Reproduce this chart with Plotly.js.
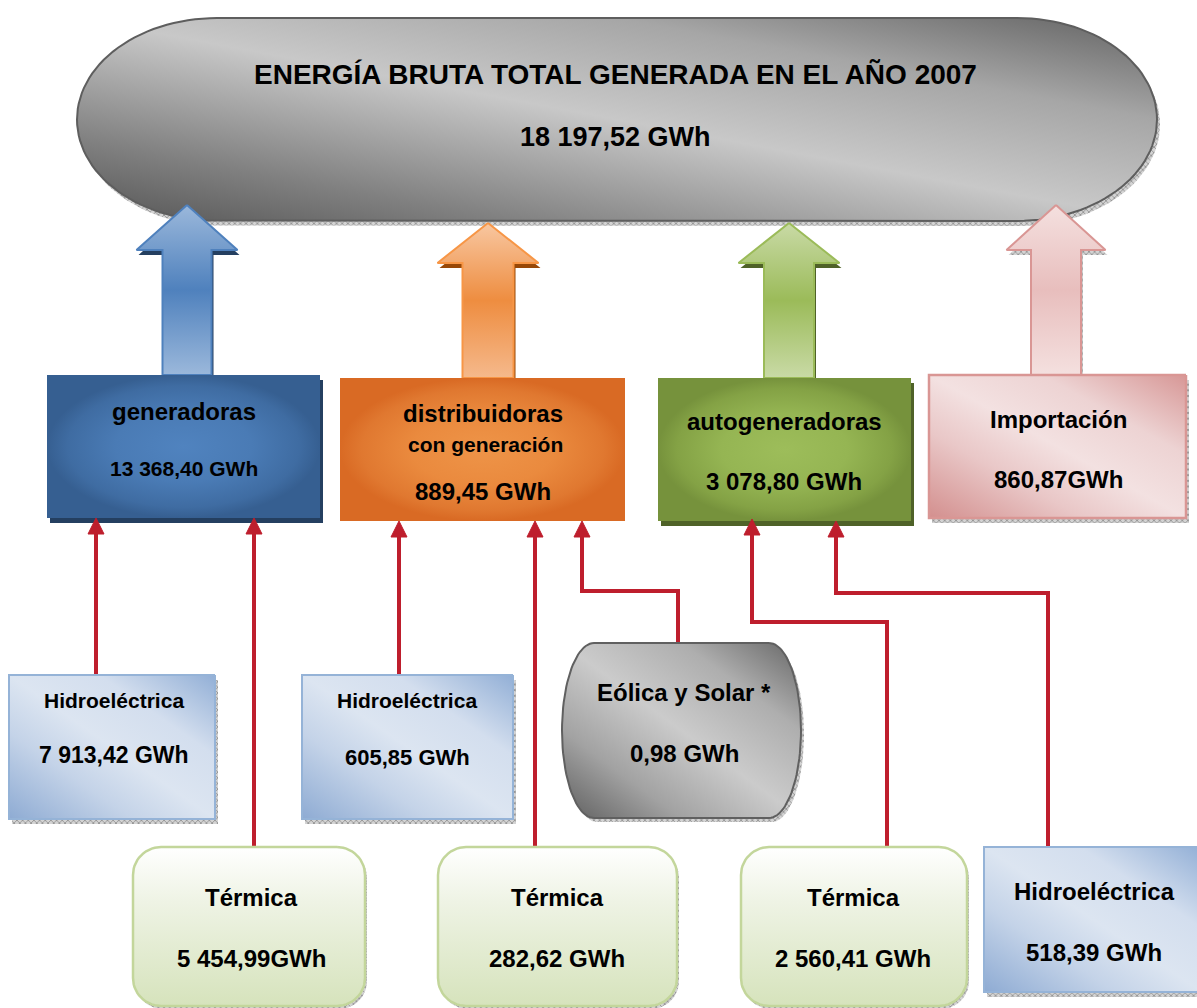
<!DOCTYPE html>
<html>
<head>
<meta charset="utf-8">
<script src="https://cdn.plot.ly/plotly-3.0.1.min.js"></script>
<style>html,body{margin:0;padding:0;background:#ffffff;}</style>
</head>
<body>
<div id="chart" style="width:1197px;height:1008px;"></div>
<script>
// ------------------------- DATA -------------------------
const totalTitle = 'ENERGÍA BRUTA TOTAL GENERADA EN EL AÑO 2007';
const totalValue = '18 197,52 GWh';

const groupNames     = ['generadoras', 'distribuidoras', 'autogeneradoras', 'Importación'];
const groupSubtitles = ['', 'con generación', '', ''];
const groupValues    = ['13 368,40 GWh', '889,45 GWh', '3 078,80 GWh', '860,87GWh'];

const sourceNames  = ['Hidroeléctrica', 'Térmica', 'Hidroeléctrica', 'Térmica', 'Eólica y Solar *', 'Térmica', 'Hidroeléctrica'];
const sourceValues = ['7 913,42 GWh', '5 454,99GWh', '605,85 GWh', '282,62 GWh', '0,98 GWh', '2 560,41 GWh', '518,39 GWh'];
const sourceGroup  = [0, 0, 1, 1, 1, 2, 2];   // which group each source feeds

// ------------------------- LAYOUT GEOMETRY / STYLE -------------------------
const W = 1197, H = 1008;
const FONT = '"Liberation Sans", Arial, Helvetica, sans-serif';
const RED = '#BE1E2D';

const pill = {x0: 77, y0: 18, x1: 1157, y1: 221, rx: 140, ry: 101.5};

// diagonal (top-right -> bottom-left) gradients
const DIAG_GRAY = [[0, '#555555'], [0.2, '#808080'], [0.5, '#C8C8C8'], [0.75, '#A6A6A6'], [1, '#626262']];
const DIAG_EOL  = [[0, '#5E5E5E'], [0.25, '#A2A2A2'], [0.5, '#CBCBCB'], [0.75, '#AEAEAE'], [1, '#666666']];
const DIAG_BLUE = [[0, '#8EABD3'], [0.3, '#C4D3E8'], [0.5, '#DCE5F1'], [0.72, '#D3DEEE'], [1, '#92AFD6']];
const DIAG_PINK = [[0, '#D38F8E'], [0.3, '#E9C7C7'], [0.5, '#F3E1E1'], [0.72, '#EDD3D3'], [1, '#D79796']];

const groupStyle = [
  {x0: 47,  y0: 375, x1: 320,  y1: 518, shadow: '#243F60', line: null, diag: false,
   stops: [[0, '#5083BF'], [0.5, '#4A7BB5'], [0.85, '#3F6CA2'], [1, '#365F91']],
   nameSize: 24, nameY: 411, subY: 0, valSize: 21, valY: 468, cx: 184},
  {x0: 340, y0: 378, x1: 625,  y1: 521, shadow: null, line: null, diag: false,
   stops: [[0, '#EE9448'], [0.5, '#EA8A3E'], [0.85, '#E07830'], [1, '#D96A24']],
   nameSize: 24, nameY: 413, subSize: 21, subY: 444, valSize: 24, valY: 491, cx: 483},
  {x0: 658, y0: 378, x1: 911,  y1: 521, shadow: '#4F6228', line: null, diag: false,
   stops: [[0, '#9DBD5A'], [0.5, '#95B553'], [0.85, '#84A245'], [1, '#76923C']],
   nameSize: 24, nameY: 421, subY: 0, valSize: 24, valY: 481, cx: 784},
  {x0: 929, y0: 375, x1: 1186, y1: 518, shadow: 'hatch', line: '#D99694', diag: true,
   stops: DIAG_PINK,
   nameSize: 24, nameY: 419, subY: 0, valSize: 24, valY: 479, cx: 1058}
];

const bigArrows = [
  {cx: 187,  tip: 205, head: 250, bot: 375, hw: 50.5, sw: 24.5, cs: ['#9BB8DB', '#4F81BD', '#9BB8DB'], line: '#4F81BD', shadow: '#243F60'},
  {cx: 488,  tip: 223, head: 263, bot: 378, hw: 50.5, sw: 25.5, cs: ['#F8C7A1', '#EE8D40', '#F5B98C'], line: '#F79646', shadow: '#984807'},
  {cx: 789,  tip: 223, head: 263, bot: 378, hw: 50.5, sw: 25,   cs: ['#C9DAA6', '#9BBB59', '#C9DAA6'], line: '#9BBB59', shadow: '#4F6228'},
  {cx: 1056, tip: 205, head: 250, bot: 375, hw: 49.5, sw: 25,   cs: ['#F4E0DF', '#E8BEBD', '#F4E0DF'], line: '#D99694', shadow: 'hatch'}
];

const sourceStyle = [
  {kind: 'hidro',   x0: 9,   y0: 675, x1: 215,  y1: 819,  cx: 114,  nameSize: 21, nameY: 700, valSize: 23, valY: 755},
  {kind: 'termica', x0: 133, y0: 847, x1: 365,  y1: 1006, cx: 251,  nameSize: 24, nameY: 897, valSize: 24, valY: 958},
  {kind: 'hidro',   x0: 302, y0: 675, x1: 513,  y1: 819,  cx: 407,  nameSize: 21, nameY: 700, valSize: 22, valY: 757},
  {kind: 'termica', x0: 438, y0: 847, x1: 677,  y1: 1006, cx: 557,  nameSize: 24, nameY: 897, valSize: 24, valY: 958},
  {kind: 'eolica',  x0: 562, y0: 643, x1: 801,  y1: 818,  cx: 684,  nameSize: 24, nameY: 692, valSize: 24, valY: 753},
  {kind: 'termica', x0: 741, y0: 847, x1: 967,  y1: 1006, cx: 853,  nameSize: 24, nameY: 897, valSize: 24, valY: 958},
  {kind: 'hidro',   x0: 984, y0: 847, x1: 1202, y1: 992,  cx: 1094, nameSize: 24, nameY: 891, valSize: 24, valY: 952}
];

// connector routes (from source box to group box)
const connectorRoutes = [
  [[96, 675], [96, 518]],
  [[254, 847], [254, 518]],
  [[399, 675], [399, 521]],
  [[535, 847], [535, 521]],
  [[678, 643], [678, 591], [582, 591], [582, 521]],
  [[887, 847], [887, 622], [752, 622], [752, 519]],
  [[1048, 847], [1048, 593], [836, 593], [836, 521]]
];

// ------------------------- HELPERS -------------------------
function roundRect(x0, y0, x1, y1, rx, ry, n) {
  n = n || 16;
  const xs = [], ys = [];
  const corners = [
    [x1 - rx, y0 + ry, -Math.PI / 2, 0],
    [x1 - rx, y1 - ry, 0, Math.PI / 2],
    [x0 + rx, y1 - ry, Math.PI / 2, Math.PI],
    [x0 + rx, y0 + ry, Math.PI, 1.5 * Math.PI]
  ];
  corners.forEach(c => {
    for (let i = 0; i <= n; i++) {
      const t = c[2] + (c[3] - c[2]) * i / n;
      xs.push(c[0] + rx * Math.cos(t));
      ys.push(c[1] + ry * Math.sin(t));
    }
  });
  xs.push(xs[0]); ys.push(ys[0]);
  return {x: xs, y: ys};
}
function shift(p, dx, dy) { return {x: p.x.map(v => v + dx), y: p.y.map(v => v + dy)}; }
function poly(p, o) {
  const t = {
    type: 'scatter', mode: 'lines', x: p.x, y: p.y, fill: 'toself',
    fillcolor: o.fill || 'rgba(0,0,0,0)',
    line: {color: o.line || 'rgba(0,0,0,0)', width: o.lw || 0},
    hoverinfo: 'skip', showlegend: false
  };
  if (o.grad) t.fillgradient = o.grad;
  if (o.pattern) t.fillpattern = o.pattern;
  if (o.meta) t.meta = o.meta;
  return t;
}
const hatch = {shape: 'x', size: 4, solidity: 0.35, fgcolor: '#8a8a8a', bgcolor: '#d4d4d4'};
function shadowTrace(p, color, dx, dy) {
  const s = shift(p, dx, dy);
  if (color === 'hatch') return poly(s, {fill: '#bdbdbd', pattern: hatch});
  return poly(s, {fill: color});
}
function radial(stops) { return {type: 'radial', colorscale: stops}; }
function diag(stops) { return {type: 'horizontal', colorscale: stops}; }

const traces = [];
const annotations = [];
function label(text, x, y, size) {
  annotations.push({
    x: x, y: y, xref: 'x', yref: 'y', text: '<b>' + text + '</b>', showarrow: false,
    xanchor: 'center', yanchor: 'middle', font: {family: FONT, size: size, color: '#000000'}
  });
}

// ------------------------- TOP PILL -------------------------
const pillPts = roundRect(pill.x0, pill.y0, pill.x1, pill.y1, pill.rx, pill.ry, 30);
traces.push(shadowTrace(pillPts, 'hatch', 3, 5));
traces.push(poly(pillPts, {fill: '#b0b0b0', line: '#5e5e5e', lw: 2, grad: diag(DIAG_GRAY), meta: 'diag'}));
label(totalTitle, (pill.x0 + pill.x1) / 2 - 2, 74, 28);
label(totalValue, (pill.x0 + pill.x1) / 2 - 2, 137, 27);

// ------------------------- BIG BLOCK ARROWS -------------------------
bigArrows.forEach(a => {
  const p = {
    x: [a.cx, a.cx + a.hw, a.cx + a.sw, a.cx + a.sw, a.cx - a.sw, a.cx - a.sw, a.cx - a.hw, a.cx],
    y: [a.tip, a.head, a.head, a.bot, a.bot, a.head, a.head, a.tip]
  };
  traces.push(shadowTrace(p, a.shadow, 2, 5));
  traces.push(poly(p, {
    fill: a.cs[1], line: a.line, lw: 2,
    grad: {type: 'vertical', start: a.tip, stop: a.bot,
           colorscale: [[0, a.cs[0]], [0.5, a.cs[1]], [1, a.cs[2]]]}
  }));
});

// ------------------------- GROUP BOXES -------------------------
groupStyle.forEach((g, i) => {
  const p = roundRect(g.x0, g.y0, g.x1, g.y1, 0, 0, 1);
  if (g.shadow) traces.push(shadowTrace(p, g.shadow, 3, 5));
  traces.push(poly(p, {
    fill: g.stops[2][1], line: g.line, lw: g.line ? 2.5 : 0,
    grad: g.diag ? diag(g.stops) : radial(g.stops), meta: g.diag ? 'diag' : undefined
  }));
  label(groupNames[i], g.cx, g.nameY, g.nameSize);
  if (groupSubtitles[i]) label(groupSubtitles[i], g.cx + 2, g.subY, g.subSize);
  label(groupValues[i], g.cx, g.valY, g.valSize);
});

// ------------------------- CONNECTORS -------------------------
connectorRoutes.forEach((r, k) => {
  const end = r[r.length - 1];
  const headLen = 16, headHalf = 8;
  const xs = r.map(q => q[0]);
  const ys = r.map(q => q[1]);
  ys[ys.length - 1] = end[1] + headLen - 1;
  traces.push({
    type: 'scatter', mode: 'lines', x: xs, y: ys,
    line: {color: RED, width: 4, shape: 'linear'}, hoverinfo: 'skip', showlegend: false
  });
  traces.push(poly({
    x: [end[0], end[0] + headHalf, end[0] - headHalf, end[0]],
    y: [end[1], end[1] + headLen, end[1] + headLen, end[1]]
  }, {fill: RED, line: RED, lw: 1}));
});

// ------------------------- SOURCE BOXES -------------------------
sourceStyle.forEach((s, i) => {
  let p;
  if (s.kind === 'hidro') {
    p = roundRect(s.x0, s.y0, s.x1, s.y1, 0, 0, 1);
    traces.push(shadowTrace(p, 'hatch', 3, 5));
    traces.push(poly(p, {fill: '#D0DCEC', line: '#95B3D7', lw: 2, grad: diag(DIAG_BLUE), meta: 'diag'}));
  } else if (s.kind === 'termica') {
    p = roundRect(s.x0, s.y0, s.x1, s.y1, 28, 28, 14);
    traces.push(shadowTrace(p, 'hatch', 2, 3));
    traces.push(poly(p, {
      fill: '#EAF1DD', line: '#C3D69B', lw: 2.5,
      grad: {type: 'vertical', start: s.y0, stop: s.y1,
             colorscale: [[0, '#FFFFFF'], [0.35, '#EEF3E4'], [1, '#D6E3BC']]}
    }));
  } else {
    p = roundRect(s.x0, s.y0, s.x1, s.y1, 32, 87.5, 24);
    traces.push(shadowTrace(p, 'hatch', 3, 4));
    traces.push(poly(p, {fill: '#a8a8a8', line: '#606060', lw: 2, grad: diag(DIAG_EOL), meta: 'diag'}));
  }
  label(sourceNames[i], s.cx, s.nameY, s.nameSize);
  label(sourceValues[i], s.cx, s.valY, s.valSize);
});

// ------------------------- RENDER -------------------------
const layout = {
  width: W, height: H,
  margin: {l: 0, r: 0, t: 0, b: 0, pad: 0},
  paper_bgcolor: '#ffffff', plot_bgcolor: '#ffffff',
  showlegend: false,
  xaxis: {range: [0, W], visible: false, fixedrange: true},
  yaxis: {range: [H, 0], visible: false, fixedrange: true},
  annotations: annotations,
  hovermode: false
};

// turn the horizontal gradients of 'diag' traces into top-right -> bottom-left diagonals
function makeDiagonal(gd) {
  try {
    gd.querySelectorAll('g.trace').forEach(g => {
      const d = g.__data__;
      const tr = d && d[0] && d[0].trace;
      if (!tr || tr.meta !== 'diag') return;
      const f = g.querySelector('path.js-fill');
      if (!f) return;
      const fs = f.style.fill || f.getAttribute('fill') || '';
      const m = fs.match(/url\(\s*["']?#([^"')]+)["']?\s*\)/);
      if (!m) return;
      const grad = document.getElementById(m[1]);
      if (!grad || grad.tagName.toLowerCase() !== 'lineargradient') return;
      grad.setAttribute('gradientUnits', 'objectBoundingBox');
      grad.removeAttribute('gradientTransform');
      grad.setAttribute('x1', '1'); grad.setAttribute('y1', '0');
      grad.setAttribute('x2', '0'); grad.setAttribute('y2', '1');
    });
  } catch (e) { /* keep horizontal gradients */ }
}

Plotly.newPlot('chart', traces, layout, {staticPlot: true, displayModeBar: false}).then(makeDiagonal);
</script>
</body>
</html>
